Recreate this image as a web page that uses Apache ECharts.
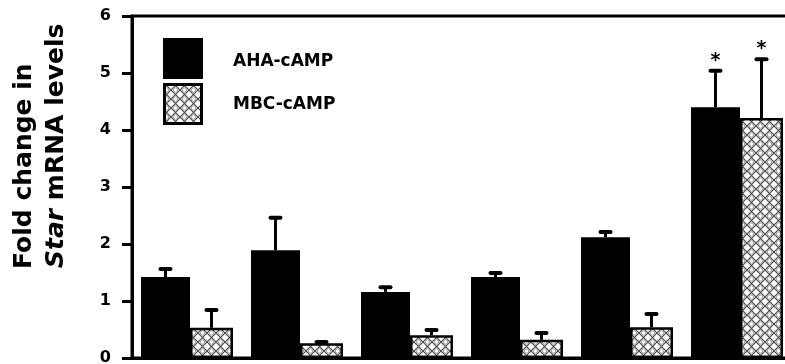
<!DOCTYPE html>
<html>
<head>
<meta charset="utf-8">
<script src="https://cdn.jsdelivr.net/npm/echarts@6/dist/echarts.min.js"></script>
<style>
html,body{margin:0;padding:0;background:#fff;}
#chart{width:785px;height:364px;}
</style>
</head>
<body>
<div id="chart"></div>
<script>
// ---- data ----
var categories = ['1', '2', '3', '4', '5', '6'];
var seriesNames = ['AHA-cAMP', 'MBC-cAMP'];
var ahaValues = [1.42, 1.89, 1.16, 1.42, 2.12, 4.40];
var ahaErrors = [0.14, 0.57, 0.08, 0.07, 0.09, 0.64];
var mbcValues = [0.53, 0.26, 0.40, 0.32, 0.54, 4.21];
var mbcErrors = [0.31, 0.02, 0.09, 0.12, 0.23, 1.03];
var ahaSignificant = [0, 0, 0, 0, 0, 1];
var mbcSignificant = [0, 0, 0, 0, 0, 1];
var yTicks = [0, 1, 2, 3, 4, 5, 6];

// ---- styles ----
var FONT = 'DejaVu Sans';
var blackW = 49, hatchW = 43;
var total = blackW + hatchW;
var ahaOffset = -total / 2 + blackW / 2;
var mbcOffset = -total / 2 + blackW + hatchW / 2;

function makeHatch() {
  var c = document.createElement('canvas');
  var s = 9;
  c.width = s; c.height = s;
  var ctx = c.getContext('2d');
  ctx.fillStyle = '#ffffff';
  ctx.fillRect(0, 0, s, s);
  ctx.strokeStyle = '#444';
  ctx.lineWidth = 1.1;
  ctx.beginPath();
  ctx.moveTo(0, 0); ctx.lineTo(s, s);
  ctx.moveTo(s, 0); ctx.lineTo(0, s);
  ctx.stroke();
  ctx.strokeStyle = '#888';
  ctx.lineWidth = 0.8;
  ctx.beginPath();
  ctx.arc(s / 2, 0, 2.2, 0, Math.PI * 2);
  ctx.stroke();
  ctx.beginPath();
  ctx.arc(s / 2, s, 2.2, 0, Math.PI * 2);
  ctx.stroke();
  return c;
}
var hatch = { image: makeHatch(), repeat: 'repeat' };

function errData(vals, errs, sig) {
  return vals.map(function (v, i) { return [i, v, v + errs[i], sig[i]]; });
}

function errRender(offset) {
  return function (params, api) {
    var idx = api.value(0);
    var base = api.coord([idx, api.value(1)]);
    var top = api.coord([idx, api.value(2)]);
    var x = base[0] + offset;
    var children = [
      { type: 'line', shape: { x1: x, y1: base[1], x2: x, y2: top[1] },
        style: { stroke: '#000', lineWidth: 3 } },
      { type: 'line', shape: { x1: x - 5, y1: top[1], x2: x + 5, y2: top[1] },
        style: { stroke: '#000', lineWidth: 4, lineCap: 'round' } }
    ];
    if (api.value(3)) {
      children.push({ type: 'text', x: x, y: top[1] - 10,
        style: { text: '*', fill: '#000', font: 'bold 19px ' + FONT,
                 align: 'center', verticalAlign: 'middle' } });
    }
    return { type: 'group', children: children };
  };
}

var chart = echarts.init(document.getElementById('chart'), null, { renderer: 'canvas' });
chart.setOption({
  animation: false,
  backgroundColor: '#fff',
  grid: { left: 132, top: 16, width: 660, height: 342, show: true, outerBoundsMode: 'none',
          containLabel: false,
          borderColor: '#000', borderWidth: 3, backgroundColor: 'transparent' },
  xAxis: {
    type: 'category', data: categories,
    axisLine: { lineStyle: { color: '#000', width: 3 } },
    axisTick: { show: false },
    axisLabel: { show: false },
    splitLine: { show: false }
  },
  yAxis: {
    type: 'value', min: yTicks[0], max: yTicks[yTicks.length - 1], interval: 1,
    axisLine: { show: true, lineStyle: { color: '#000', width: 3 } },
    axisTick: { show: true, length: 10, lineStyle: { color: '#000', width: 3 } },
    axisLabel: { color: '#000', fontFamily: FONT, fontWeight: 'bold', fontSize: 16, margin: 21 },
    splitLine: { show: false }
  },
  series: [
    { name: seriesNames[0], type: 'bar', data: ahaValues, barWidth: blackW, barGap: '0%',
      itemStyle: { color: '#000' } },
    { name: seriesNames[1], type: 'bar', data: mbcValues, barWidth: hatchW, barGap: '0%',
      itemStyle: { color: hatch, borderColor: '#000', borderWidth: 2.5 } },
    { type: 'custom', data: errData(ahaValues, ahaErrors, ahaSignificant),
      renderItem: errRender(ahaOffset), z: 5, silent: true },
    { type: 'custom', data: errData(mbcValues, mbcErrors, mbcSignificant),
      renderItem: errRender(mbcOffset), z: 5, silent: true }
  ],
  graphic: [
    { type: 'rect', shape: { x: 163, y: 38, width: 40, height: 41 }, style: { fill: '#000' } },
    { type: 'rect', shape: { x: 164.5, y: 84.5, width: 37, height: 39 },
      style: { fill: hatch, stroke: '#000', lineWidth: 3 } },
    { type: 'text', x: 233, y: 62,
      style: { text: seriesNames[0], font: 'bold 17px ' + FONT, fill: '#000', verticalAlign: 'middle' } },
    { type: 'text', x: 233, y: 105,
      style: { text: seriesNames[1], font: 'bold 17px ' + FONT, fill: '#000', verticalAlign: 'middle' } },
    { type: 'text', x: 24, y: 269, rotation: Math.PI / 2,
      style: { text: 'Fold change in', font: 'bold 25px ' + FONT, fill: '#000',
               align: 'left', verticalAlign: 'middle' } },
    { type: 'text', x: 56, y: 268, rotation: Math.PI / 2,
      style: { text: '{i|Star} mRNA levels', font: 'bold 25px ' + FONT, fill: '#000',
               align: 'left', verticalAlign: 'middle',
               rich: { i: { fontStyle: 'italic', fontWeight: 'bold', fontSize: 25, fontFamily: FONT, fill: '#000' } } } }
  ]
});
</script>
</body>
</html>
